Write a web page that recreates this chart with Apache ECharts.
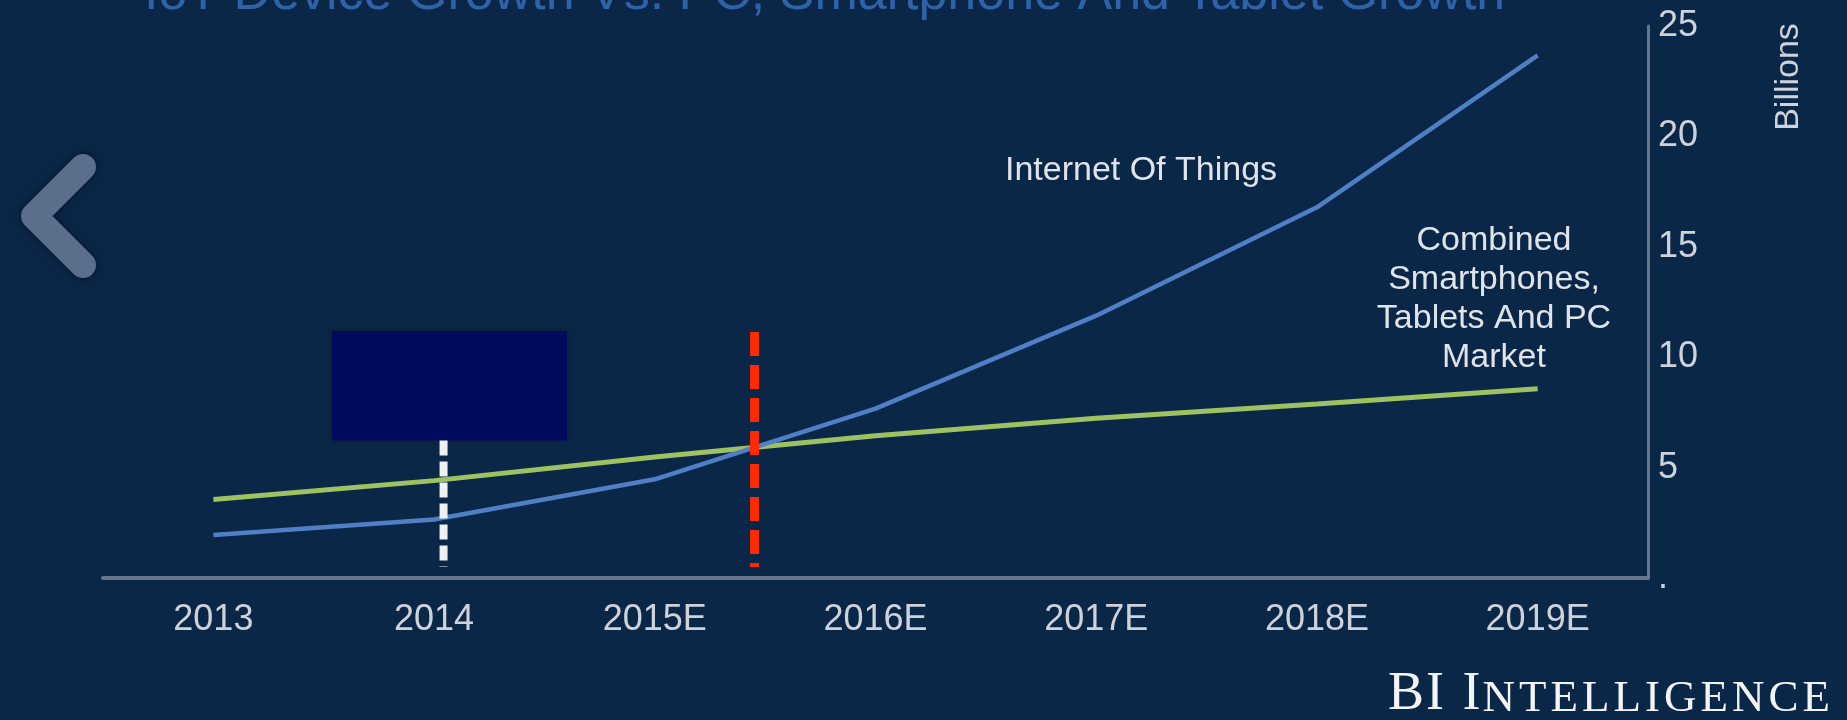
<!DOCTYPE html>
<html>
<head>
<meta charset="utf-8">
<script src="https://cdn.jsdelivr.net/npm/echarts@6/dist/echarts.min.js"></script>
<style>
  html, body { margin: 0; padding: 0; background: #0b2747; }
  #chart { width: 1847px; height: 720px; }
</style>
</head>
<body>
<div id="chart"></div>
<script>
// ---- data ----
const categories = ['2013', '2014', '2015E', '2016E', '2017E', '2018E', '2019E'];
const iotValues = [1.95, 2.65, 4.47, 7.67, 11.88, 16.79, 23.67];
const combinedValues = [3.56, 4.41, 5.48, 6.44, 7.24, 7.88, 8.57];
const yTickLabels = ['.', '5', '10', '15', '20', '25'];
// annotation marks on a continuous category-position scale (category index units)
const redMarker = [[2.452, 11.14], [2.452, 0.5]];
const whiteMarker = [[1.043, 6.23], [1.043, 0.5]];
const boxArea = [[0.538, 11.19], [1.602, 6.23]];
const titleText = 'IoT Device Growth Vs. PC, Smartphone And Tablet Growth';
const iotLabel = 'Internet Of Things';
const combinedLabel = 'Combined\nSmartphones,\nTablets And PC\nMarket';
const unitLabel = 'Billions';
const brand = 'BI INTELLIGENCE';

const sansFont = '"Liberation Sans", Arial, Helvetica, sans-serif';
const serifFont = '"Liberation Serif", "Times New Roman", serif';
const labelColor = '#cdd2db';

// brand rich text (small caps look)
function brandRich(s) {
  const parts = [];
  const firstWordEnd = s.indexOf(' ');
  for (let i = 0; i < s.length; i++) {
    const ch = s[i];
    if (ch === ' ') { parts.push('{sp| }'); continue; }
    const isBig = i < firstWordEnd || i === firstWordEnd + 1;
    const last = i === s.length - 1;
    parts.push('{' + (isBig ? 'b' : (last ? 'e' : 's')) + '|' + ch + '}');
  }
  return parts.join('');
}

const chart = echarts.init(document.getElementById('chart'));
chart.setOption({
  backgroundColor: '#0b2747',
  animation: false,
  title: {
    text: titleText,
    left: 139,
    top: -36,
    textStyle: { color: '#2f62a6', fontSize: 52, fontWeight: 'normal', fontFamily: sansFont }
  },
  grid: { left: 103, right: 199, top: 26, bottom: 142 },
  xAxis: [
    {
      type: 'category',
      data: categories,
      boundaryGap: true,
      axisLine: { show: true, lineStyle: { color: '#66768f', width: 4 } },
      axisTick: { show: false },
      splitLine: { show: false },
      axisLabel: { color: labelColor, fontSize: 36, fontFamily: sansFont, margin: 24 }
    },
    {
      type: 'value',
      min: -0.5,
      max: 6.5,
      show: false
    }
  ],
  yAxis: {
    type: 'value',
    position: 'right',
    min: 0,
    max: 25,
    interval: 5,
    axisLine: { show: true, onZero: false, lineStyle: { color: '#66768f', width: 3 } },
    axisTick: { show: false },
    splitLine: { show: false },
    axisLabel: {
      color: labelColor, fontSize: 36, fontFamily: sansFont, margin: 10,
      formatter: function (v) { return yTickLabels[Math.round(v / 5)]; }
    }
  },
  series: [
    {
      name: 'Combined Smartphones, Tablets And PC Market',
      type: 'line',
      data: combinedValues,
      symbol: 'none',
      lineStyle: { color: '#9cc262', width: 5 },
      z: 2
    },
    {
      name: 'Internet Of Things',
      type: 'line',
      data: iotValues,
      symbol: 'none',
      lineStyle: { color: '#4f80c6', width: 4.5 },
      z: 3
    },
    {
      name: 'white marker',
      type: 'line',
      xAxisIndex: 1,
      data: whiteMarker,
      symbol: 'none',
      silent: true,
      lineStyle: { color: '#eef0f2', width: 8, type: [15, 6] },
      z: 5,
      markArea: {
        silent: true,
        itemStyle: { color: '#010b5e', shadowBlur: 6, shadowColor: 'rgba(0,0,0,0.35)' },
        data: [[{ coord: boxArea[0] }, { coord: boxArea[1] }]]
      }
    },
    {
      name: 'red marker',
      type: 'line',
      xAxisIndex: 1,
      data: redMarker,
      symbol: 'none',
      silent: true,
      lineStyle: { color: '#ff2a00', width: 9, type: [24, 9] },
      z: 6
    }
  ],
  graphic: [
    {
      type: 'polyline',
      shape: { points: [[83, 167], [34, 216], [83, 265]] },
      style: {
        stroke: '#5b6e8c', lineWidth: 26, lineCap: 'round', lineJoin: 'round', fill: null,
        shadowBlur: 10, shadowColor: 'rgba(0,10,35,0.7)'
      },
      z: 10
    },
    {
      type: 'text',
      x: 1141, y: 171,
      style: {
        text: iotLabel, fill: '#dfe3ea', font: '34px ' + sansFont,
        align: 'center', verticalAlign: 'middle'
      }
    },
    {
      type: 'text',
      x: 1494, y: 299,
      style: {
        text: combinedLabel, fill: '#dfe3ea', font: '34px ' + sansFont,
        align: 'center', verticalAlign: 'middle', lineHeight: 39
      }
    },
    {
      type: 'text',
      x: 1789, y: 77,
      rotation: Math.PI / 2,
      style: {
        text: unitLabel, fill: labelColor, font: '34px ' + sansFont,
        align: 'center', verticalAlign: 'middle'
      }
    },
    {
      type: 'text',
      left: 1388,
      top: 668,
      style: {
        text: brandRich(brand),
        fill: '#f3f4f6',
        rich: {
          b: { fontFamily: serifFont, fontSize: 54, color: '#f3f4f6', padding: [0, 2, 0, 0], verticalAlign: 'bottom', lineHeight: 54 },
          sp: { fontFamily: serifFont, fontSize: 54, color: '#f3f4f6', padding: [0, 3, 0, 0], verticalAlign: 'bottom', lineHeight: 54 },
          s: { fontFamily: serifFont, fontSize: 45, color: '#f3f4f6', padding: [0, 4, 0, 0], verticalAlign: 'bottom', lineHeight: 54 },
          e: { fontFamily: serifFont, fontSize: 45, color: '#f3f4f6', verticalAlign: 'bottom', lineHeight: 54 }
        }
      }
    }
  ]
});
</script>
</body>
</html>
